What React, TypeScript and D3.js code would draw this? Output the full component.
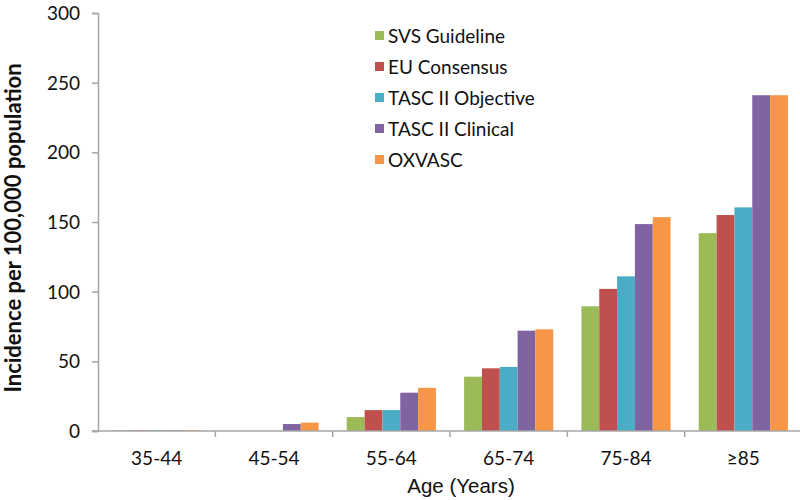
import React, { useEffect, useRef } from 'react';
import * as d3 from 'd3';

const ageGroups = ['35-44', '45-54', '55-64', '65-74', '75-84', '≥85'];
const seriesNames = ['SVS Guideline', 'EU Consensus', 'TASC II Objective', 'TASC II Clinical', 'OXVASC'];
const svsGuideline = [0.5, 0, 10, 39, 89.5, 142];
const euConsensus = [0.5, 0, 15, 45, 102, 155];
const tascObjective = [0.5, 0, 15, 46, 111, 160.5];
const tascClinical = [0.5, 5, 27.5, 72, 148.5, 241];
const oxvasc = [0.5, 6, 31, 73, 153.5, 241];
const yTicks = [0, 50, 100, 150, 200, 250, 300];
const seriesColors = ['#9BBB59', '#C0504D', '#4BACC6', '#8064A2', '#F79646'];

const FONT = 'Lato, "Open Sans", sans-serif';

export default function App() {
  const ref = useRef<SVGSVGElement>(null);

  useEffect(() => {
    const width = 800;
    const height = 500;
    const margin = { top: 13, right: -2, bottom: 69, left: 98 };
    const svg = d3.select(ref.current);
    svg.selectAll('*').remove();

    const values = [svsGuideline, euConsensus, tascObjective, tascClinical, oxvasc];

    // x scales
    const x0 = d3.scaleBand()
      .domain(ageGroups)
      .range([margin.left, width - margin.right])
      .paddingInner(0.24)
      .paddingOuter(0.12);
    const step = x0.step();
    const x1 = d3.scaleBand()
      .domain(seriesNames)
      .range([0, x0.bandwidth()]);

    // y scale
    const y = d3.scaleLinear()
      .domain([0, 300])
      .range([height - margin.bottom, margin.top]);

    const axisColor = '#a6a6a6';

    // bars
    ageGroups.forEach((g, i) => {
      seriesNames.forEach((s, j) => {
        const v = values[j][i];
        if (v <= 0) return;
        svg.append('rect')
          .attr('x', x0(g)! + x1(s)!)
          .attr('y', y(v))
          .attr('width', x1.bandwidth())
          .attr('height', y(0) - y(v))
          .attr('fill', seriesColors[j]);
      });
    });

    // y axis
    const yAxis = svg.append('g')
      .attr('transform', `translate(${margin.left},0)`)
      .call(d3.axisLeft(y).tickValues(yTicks).tickSize(6).tickPadding(12));
    yAxis.select('.domain').attr('stroke', axisColor).attr('stroke-width', 1.5);
    yAxis.selectAll('.tick line').attr('stroke', axisColor).attr('stroke-width', 1.5);
    yAxis.selectAll('.tick text')
      .attr('font-family', FONT)
      .attr('font-size', 19)
      .attr('dy', '0.34em')
      .attr('fill', '#111');

    // x axis line + boundary ticks
    svg.append('line')
      .attr('x1', margin.left - 6)
      .attr('x2', width)
      .attr('y1', y(0))
      .attr('y2', y(0))
      .attr('stroke', axisColor)
      .attr('stroke-width', 1.5);
    ageGroups.forEach((g, i) => {
      if (i === 0) return;
      const bx = margin.left + step * i;
      svg.append('line')
        .attr('x1', bx).attr('x2', bx)
        .attr('y1', y(0)).attr('y2', y(0) + 6)
        .attr('stroke', axisColor)
        .attr('stroke-width', 1.5);
    });
    ageGroups.forEach((g, i) => {
      svg.append('text')
        .attr('x', margin.left + step * (i + 0.5))
        .attr('y', 465)
        .attr('text-anchor', 'middle')
        .attr('font-family', FONT)
        .attr('font-size', 19)
        .attr('fill', '#111')
        .text(g);
    });

    // axis titles
    svg.append('text')
      .attr('x', 461)
      .attr('y', 493)
      .attr('text-anchor', 'middle')
      .attr('font-family', '"Liberation Sans", Arial, sans-serif')
      .attr('font-size', 20.5)
      .attr('fill', '#111')
      .text('Age (Years)');
    svg.append('text')
      .attr('transform', `translate(21,228) rotate(-90)`)
      .attr('text-anchor', 'middle')
      .attr('font-family', FONT)
      .attr('font-size', 22)
      .attr('font-weight', 'bold')
      .attr('fill', '#111')
      .text('Incidence per 100,000 population');

    // legend
    const legend = svg.append('g').attr('transform', 'translate(375,36)');
    seriesNames.forEach((s, j) => {
      const row = legend.append('g').attr('transform', `translate(0,${j * 31})`);
      row.append('rect')
        .attr('x', 0).attr('y', -5)
        .attr('width', 9).attr('height', 9)
        .attr('fill', seriesColors[j]);
      row.append('text')
        .attr('x', 13)
        .attr('y', 0)
        .attr('dy', '0.36em')
        .attr('font-family', FONT)
        .attr('font-size', 19)
        .attr('fill', '#111')
        .text(s);
    });
  }, []);

  return (
    <svg
      ref={ref}
      width={800}
      height={500}
      style={{ position: 'absolute', left: 0, top: 0, background: '#fff' }}
    />
  );
}
